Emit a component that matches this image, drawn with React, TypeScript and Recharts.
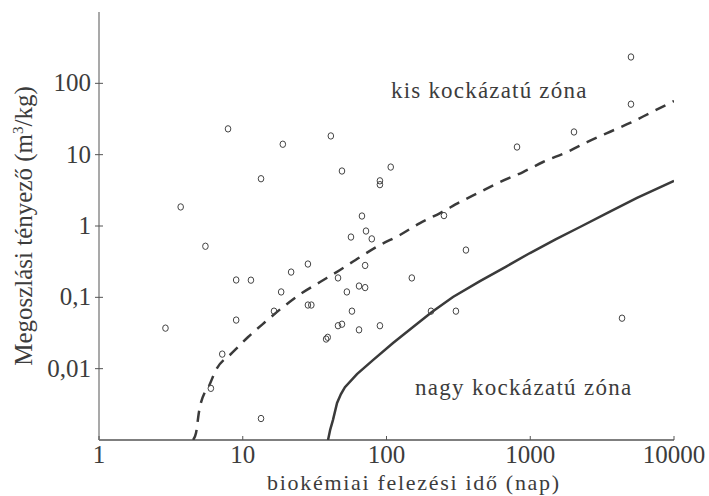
import React from 'react';
import { ScatterChart, Scatter, XAxis, YAxis } from 'recharts';

const xTicks = [1, 10, 100, 1000, 10000];
const xTickLabels = ['1', '10', '100', '1000', '10000'];
const yTicks = [0.01, 0.1, 1, 10, 100];
const yTickLabels = ['0,01', '0,1', '1', '10', '100'];

const xTitle = 'biokémiai felezési idő (nap)';
const lowZoneLabel = 'kis kockázatú zóna';
const highZoneLabel = 'nagy kockázatú zóna';

// measured substances: [half-life (days), partition coefficient (m3/kg)]
const measured: [number, number][] = [
  [2.9, 0.037], [3.7, 1.85], [5.5, 0.52], [6.0, 0.0053], [7.2, 0.016],
  [7.9, 23], [9.0, 0.175], [9.0, 0.048], [11.4, 0.174], [13.4, 4.6],
  [13.4, 0.002], [16.5, 0.064], [18.5, 0.119], [19, 14], [21.7, 0.226],
  [28.4, 0.293], [28.4, 0.078], [30, 0.078], [38, 0.026], [39, 0.0275],
  [41, 18.3], [46, 0.187], [46, 0.04], [49, 0.042], [49, 5.9],
  [53, 0.119], [56.6, 0.7], [57.5, 0.064], [64.4, 0.144], [64.4, 0.035],
  [67.5, 1.38], [71, 0.28], [71, 0.137], [72, 0.85], [79, 0.66],
  [90, 4.3], [90, 3.8], [90, 0.04], [107, 6.7], [150, 0.187],
  [204, 0.064], [251, 1.4], [304, 0.064], [357, 0.46], [809, 12.8],
  [2015, 20.8], [4350, 0.051], [5020, 234], [5020, 51],
];

// dashed boundary (low-risk zone)
const lowRiskBoundary: [number, number][] = [
  [4.51, 0.001], [4.73, 0.00125], [4.96, 0.00247], [5.46, 0.0047], [5.73, 0.0054],
  [6.51, 0.0096], [8.42, 0.0166], [10.9, 0.0278], [14.3, 0.045], [19.05, 0.073],
  [25.8, 0.115], [34.5, 0.164], [47.5, 0.242], [65.5, 0.367], [90, 0.541],
  [124, 0.748], [171, 1.1], [236, 1.52], [325, 2.17], [433, 2.9],
  [616, 4.14], [891, 5.71], [1227, 7.89], [1803, 10.9], [2483, 15.0],
  [3420, 20.1], [4945, 27.8], [6808, 38.4], [10000, 56.5],
];

// solid boundary (high-risk zone)
const highRiskBoundary: [number, number][] = [
  [39.2, 0.001], [40.6, 0.0014], [42.4, 0.0019], [45.3, 0.0033], [48.2, 0.0044],
  [51.4, 0.0055], [62.3, 0.0084], [80.5, 0.0132], [111, 0.0229], [153, 0.0384],
  [207, 0.0622], [290, 0.101], [447, 0.169], [680, 0.27], [996, 0.418],
  [1500, 0.65], [2218, 0.968], [3500, 1.55], [5529, 2.47], [10000, 4.3],
];

const toPts = (a: [number, number][]) => a.map(([x, y]) => ({ x, y }));

const FONT = 'Liberation Serif, Times New Roman, Times, serif';
const TXT = '#3c3c3c';

function XTick(props: any) {
  const { x, y, payload } = props;
  const i = xTicks.indexOf(payload.value);
  return (
    <g>
      <line x1={x} x2={x} y1={y - 4} y2={y} stroke="#555" strokeWidth={1} />
      <text x={x} y={y + 23} textAnchor="middle" style={{ fontFamily: FONT, fontSize: 25 }} fill={TXT}>
        {i >= 0 ? xTickLabels[i] : String(payload.value)}
      </text>
    </g>
  );
}

function YTick(props: any) {
  const { x, y, payload } = props;
  const i = yTicks.indexOf(payload.value);
  return (
    <g>
      <line x1={x - 4} x2={x + 4} y1={y} y2={y} stroke="#555" strokeWidth={1} />
      <text x={x - 8} y={y + 8} textAnchor="end" style={{ fontFamily: FONT, fontSize: 25 }} fill={TXT}>
        {i >= 0 ? yTickLabels[i] : String(payload.value)}
      </text>
    </g>
  );
}

const Marker = (props: any) => {
  const { cx, cy } = props;
  if (cx == null || cy == null) return <g />;
  return <ellipse cx={cx} cy={cy} rx={2.8} ry={3.2} fill="none" stroke="#444" strokeWidth={1} />;
};

const NoShape = () => <g />;

export default function App() {
  return (
    <div style={{ position: 'absolute', left: 0, top: 0, width: 709, height: 496, background: '#fff', fontFamily: FONT }}>
      <ScatterChart width={709} height={496} margin={{ top: 12, right: 35, bottom: 0, left: 0 }}>
        <XAxis
          dataKey="x"
          type="number"
          scale="log"
          domain={[1, 10000]}
          ticks={xTicks}
          allowDataOverflow
          height={56}
          tickSize={0}
          tickMargin={0}
          tickLine={false}
          tick={<XTick />}
          axisLine={{ stroke: '#555', strokeWidth: 1.5 }}
          interval={0}
        />
        <YAxis
          dataKey="y"
          type="number"
          scale="log"
          domain={[0.001, 1000]}
          ticks={yTicks}
          allowDataOverflow
          width={99}
          tickSize={0}
          tickMargin={0}
          tickLine={false}
          tick={<YTick />}
          axisLine={{ stroke: '#8c8c8c', strokeWidth: 1.5 }}
          interval={0}
        />
        <Scatter
          data={toPts(lowRiskBoundary)}
          line={{ stroke: '#3a3a3a', strokeWidth: 2.5, strokeDasharray: '11 8' }}
          lineType="joint"
          lineJointType="monotoneX"
          shape={NoShape}
          isAnimationActive={false}
        />
        <Scatter
          data={toPts(highRiskBoundary)}
          line={{ stroke: '#3a3a3a', strokeWidth: 2.5 }}
          lineType="joint"
          lineJointType="linear"
          shape={NoShape}
          isAnimationActive={false}
        />
        <Scatter data={toPts(measured)} shape={Marker} isAnimationActive={false} />
      </ScatterChart>
      <svg
        width={709}
        height={496}
        style={{ position: 'absolute', left: 0, top: 0, pointerEvents: 'none', fontFamily: FONT }}
      >
        <text x={267} y={490} style={{ fontSize: 22, letterSpacing: 1.7 }} fill={TXT}>
          {xTitle}
        </text>
        <text
          x={32}
          y={226}
          transform="rotate(-90, 32, 226)"
          textAnchor="middle"
          style={{ fontSize: 25 }}
          fill={TXT}
        >
          Megoszlási tényező (m<tspan dy={-9} style={{ fontSize: 15 }}>3</tspan>
          <tspan dy={9}>/kg)</tspan>
        </text>
        <text x={391} y={98} style={{ fontSize: 23, letterSpacing: 1.2 }} fill={TXT}>
          {lowZoneLabel}
        </text>
        <text x={415} y={395} style={{ fontSize: 23, letterSpacing: 1.3 }} fill={TXT}>
          {highZoneLabel}
        </text>
      </svg>
    </div>
  );
}
